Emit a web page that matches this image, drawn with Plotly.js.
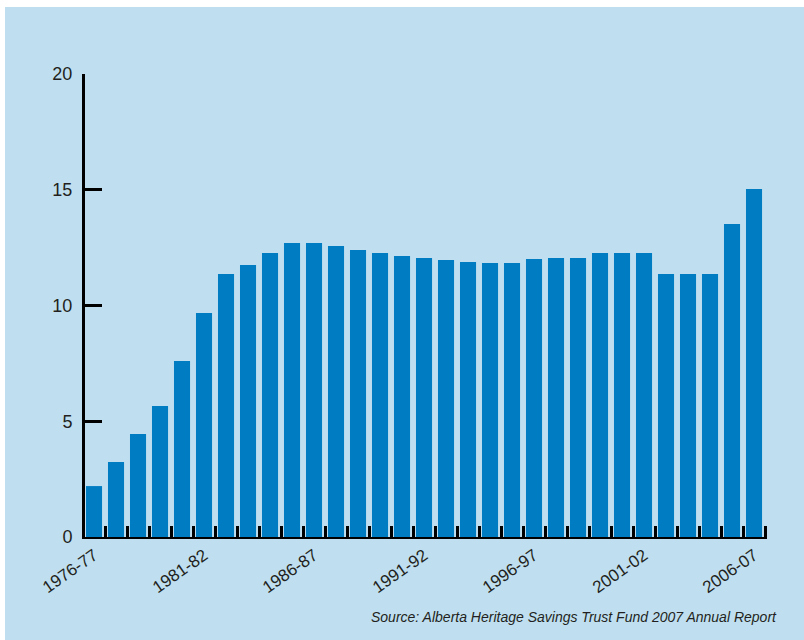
<!DOCTYPE html>
<html>
<head>
<meta charset="utf-8">
<script src="https://cdn.plot.ly/plotly-3.0.1.min.js"></script>
<style>
  html, body { margin: 0; padding: 0; background: #ffffff; }
  #bg { position: absolute; left: 5px; top: 7px; width: 799px; height: 633px; background: #bfdff0; }
  #chart { position: absolute; left: 0; top: 0; width: 804px; height: 640px; }
</style>
</head>
<body>
<div id="bg"></div>
<div id="chart"></div>
<script>
const categories = [
  "1976-77","1977-78","1978-79","1979-80","1980-81","1981-82","1982-83","1983-84","1984-85","1985-86",
  "1986-87","1987-88","1988-89","1989-90","1990-91","1991-92","1992-93","1993-94","1994-95","1995-96",
  "1996-97","1997-98","1998-99","1999-00","2000-01","2001-02","2002-03","2003-04","2004-05","2005-06",
  "2006-07"
];
const values = [
  2.20, 3.24, 4.45, 5.66, 7.60, 9.68, 11.36, 11.75, 12.27, 12.70,
  12.70, 12.57, 12.40, 12.27, 12.14, 12.05, 11.97, 11.88, 11.84, 11.84,
  12.01, 12.05, 12.05, 12.27, 12.27, 12.27, 11.36, 11.36, 11.36, 13.52,
  15.03
];
const labeledCategories = ["1976-77","1981-82","1986-87","1991-92","1996-97","2001-02","2006-07"];
const yTicks = [0, 5, 10, 15, 20];
const sourceText = "Source: Alberta Heritage Savings Trust Fund 2007 Annual Report";

const tickText = categories.map(c => labeledCategories.includes(c) ? c : "");

const trace = {
  type: "bar",
  x: categories,
  y: values,
  marker: { color: "#007cc2", line: { width: 0 } },
  hoverinfo: "x+y"
};

const L = 85, R = 37, T = 74, B = 103;

const layout = {
  width: 804,
  height: 640,
  margin: { l: L, r: R, t: T, b: B },
  paper_bgcolor: "rgba(0,0,0,0)",
  plot_bgcolor: "rgba(0,0,0,0)",
  bargap: 0.27,
  showlegend: false,
  font: { family: "Liberation Sans, Arial, sans-serif", color: "#231f20" },
  xaxis: {
    type: "category",
    range: [-0.41, 30.59],
    tickmode: "array",
    tickvals: categories,
    ticktext: tickText,
    tickson: "boundaries",
    ticks: "inside",
    ticklen: 11,
    tickwidth: 3,
    tickcolor: "#000000",
    showline: true,
    linecolor: "#000000",
    linewidth: 2,
    showgrid: false,
    zeroline: false,
    tickangle: -35,
    tickfont: { size: 17, color: "#231f20" },
    fixedrange: true
  },
  yaxis: {
    range: [0, 20],
    tickmode: "array",
    tickvals: yTicks,
    ticktext: yTicks.map(String),
    ticks: "inside",
    ticklen: 17,
    tickwidth: 3,
    tickcolor: "#000000",
    showline: true,
    linecolor: "#000000",
    linewidth: 3,
    showgrid: false,
    zeroline: false,
    tickfont: { size: 18, color: "#231f20" },
    ticklabelstandoff: 6,
    fixedrange: true
  },
  annotations: [{
    xref: "paper", yref: "paper",
    x: (779 - L) / (804 - L - R),
    y: -(617 - (640 - B)) / (640 - T - B),
    xanchor: "right", yanchor: "middle",
    showarrow: false,
    text: "<i>" + sourceText + "</i>",
    font: { size: 14, color: "#231f20", family: "Liberation Sans, Arial, sans-serif" }
  }]
};

Plotly.newPlot("chart", [trace], layout, { displayModeBar: false, staticPlot: true });
</script>
</body>
</html>
